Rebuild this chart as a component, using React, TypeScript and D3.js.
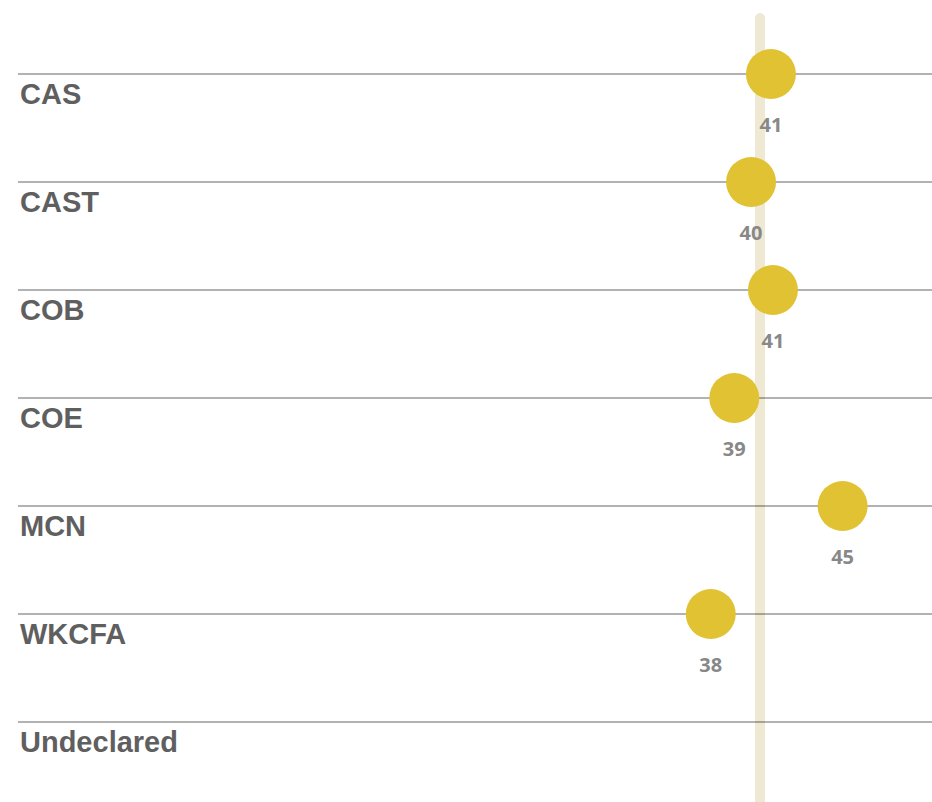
import React, { useEffect, useRef } from 'react';
import * as d3 from 'd3';

const categories = ['CAS', 'CAST', 'COB', 'COE', 'MCN', 'WKCFA', 'Undeclared'];
const values = [41.17, 40.08, 41.28, 39.16, 45.1, 37.87, null];
const average = 40.57;

function App() {
  const ref = useRef(null);

  useEffect(() => {
    const svg = d3.select(ref.current);
    svg.selectAll('*').remove();
    const width = 932;
    const height = 802;

    const x = d3.scaleLinear().domain([0, 50]).range([20, width]);
    const y = d3.scalePoint().domain(categories).range([74, 722]);

    // average band
    svg.append('line')
      .attr('x1', x(average))
      .attr('x2', x(average))
      .attr('y1', 18)
      .attr('y2', height + 10)
      .attr('stroke', '#efe9d4')
      .attr('stroke-width', 10)
      .attr('stroke-linecap', 'round');

    const rows = svg.selectAll('.row')
      .data(categories)
      .enter().append('g')
      .attr('class', 'row')
      .attr('transform', (d) => 'translate(0,' + y(d) + ')');

    rows.append('line')
      .attr('x1', 18)
      .attr('x2', width)
      .attr('stroke', '#000')
      .attr('stroke-opacity', 0.3)
      .attr('stroke-width', 2);

    rows.append('text')
      .attr('x', 20)
      .attr('y', 30)
      .attr('font-family', '"Liberation Sans", Arial, sans-serif')
      .attr('font-weight', 'bold')
      .attr('font-size', 29)
      .attr('fill', '#5f5f5f')
      .text((d) => d);

    const pts = categories
      .map((c, i) => ({ c, v: values[i] }))
      .filter((d) => d.v !== null);

    svg.selectAll('.dot')
      .data(pts)
      .enter().append('circle')
      .attr('class', 'dot')
      .attr('cx', (d) => x(d.v))
      .attr('cy', (d) => y(d.c))
      .attr('r', 25)
      .attr('fill', '#e0c232');

    svg.selectAll('.val')
      .data(pts)
      .enter().append('text')
      .attr('class', 'val')
      .attr('x', (d) => x(d.v))
      .attr('y', (d) => y(d.c) + 58)
      .attr('text-anchor', 'middle')
      .attr('font-family', '"Open Sans", sans-serif')
      .attr('font-weight', 'bold')
      .attr('font-size', 20)
      .attr('fill', '#888888')
      .text((d) => d3.format('.0f')(d.v));
  }, []);

  return (
    <svg ref={ref} width="932" height="802" style={{ position: 'absolute', left: 0, top: 0 }} />
  );
}

export default App;
